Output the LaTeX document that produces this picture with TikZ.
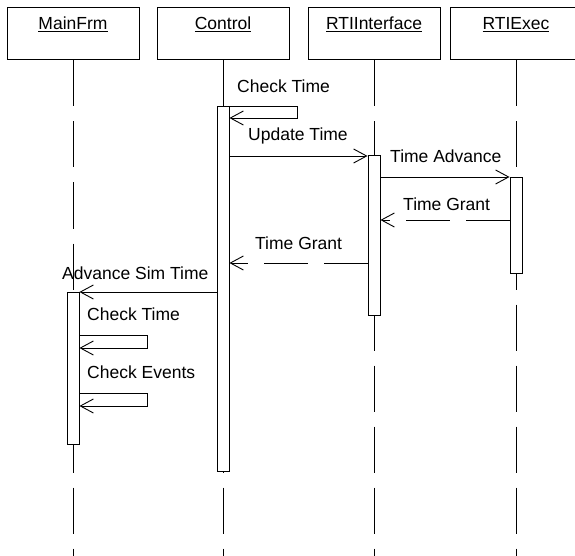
\documentclass[tikz,border=0pt]{standalone}
\usepackage{fontspec}
\setmainfont{Liberation Sans}
\usetikzlibrary{arrows.meta}

\tikzset{
	obj/.style={draw=black, line width=1pt, rectangle, minimum width=132pt, inner xsep=0pt, inner ysep=4pt, text height=18pt, text depth=26pt},
	act/.style={draw=black, fill=white, line width=0.9pt, rectangle, minimum width=12pt, inner sep=0pt, anchor=north},
	lifeline/.style={draw=black, line width=0.9pt, dash pattern=on 46pt off 15pt},
	msg/.style={draw=black, line width=0.9pt, -{Straight Barb[length=13pt,width=14pt]}},
	reply/.style={msg, dash pattern=on 44pt off 16pt},
	lbl/.style={anchor=base west, inner sep=0pt}
}

\begin{document}
\begin{tikzpicture}[x=1pt, y=-1pt, font=\fontsize{17.5}{20}\selectfont]
		\clip (0,0) rectangle (575,556);
		
		% Objets
		\node[obj] at (73,34) (mf) {\underline{MainFrm}};
		\node[obj] at (223,34) (ctl) {\underline{Control}};
		\node[obj] at (374,34) (rti) {\underline{RTIInterface}};
		\node[obj] at (516,34) (exe) {\underline{RTIExec}};
		
		% Lignes de vie
		\draw[lifeline] (mf.south) -- (mf.south |- 0,556);
		\draw[lifeline] (ctl.south) -- (ctl.south |- 0,556);
		\draw[lifeline] (rti.south) -- (rti.south |- 0,556);
		\draw[lifeline] (exe.south) -- (exe.south |- 0,556);
		
		% Activations
		\node[act, minimum height=152pt] at (73,292) (actM) {};
		\node[act, minimum height=365pt] at (223,106) (actC) {};
		\node[act, minimum height=160pt] at (374,155) (actI) {};
		\node[act, minimum height=96pt] at (516,177) (actE) {};
		
		% Messages
		\draw[msg] (actC.north east) -- ++(68,0) -- ++(0,12) -- (actC.east |- 0,118);
		\draw[msg] (actC.east |- 0,156) -- (actI.west |- 0,156);
		\draw[msg] (actI.east |- 0,177) -- (actE.north west);
		\draw[reply] (actE.west |- 0,220) -- (actI.east |- 0,220);
		\draw[reply] (actI.west |- 0,263) -- (actC.east |- 0,263);
		\draw[msg] (actC.west |- 0,292) -- (actM.north east);
		\draw[msg] (actM.east |- 0,335) -- ++(68,0) -- ++(0,13) -- (actM.east |- 0,348);
		\draw[msg] (actM.east |- 0,393) -- ++(68,0) -- ++(0,13) -- (actM.east |- 0,406);
		
		% Etiquettes
		\node[lbl] at (237,93) (chkC) {Check Time};
		\node[lbl] at (248,141) (upd) {Update Time};
		\node[lbl] at (390,163) (adv) {Time Advance};
		\node[lbl] at (403,210) (grantI) {Time Grant};
		\node[lbl] at (255,249) (grantC) {Time Grant};
		\node[lbl] at (62,279) (sim) {Advance Sim Time};
		\node[lbl] at (87,320) (chkM) {Check Time};
		\node[lbl] at (87,378) (evt) {Check Events};

\end{tikzpicture}
\end{document}
